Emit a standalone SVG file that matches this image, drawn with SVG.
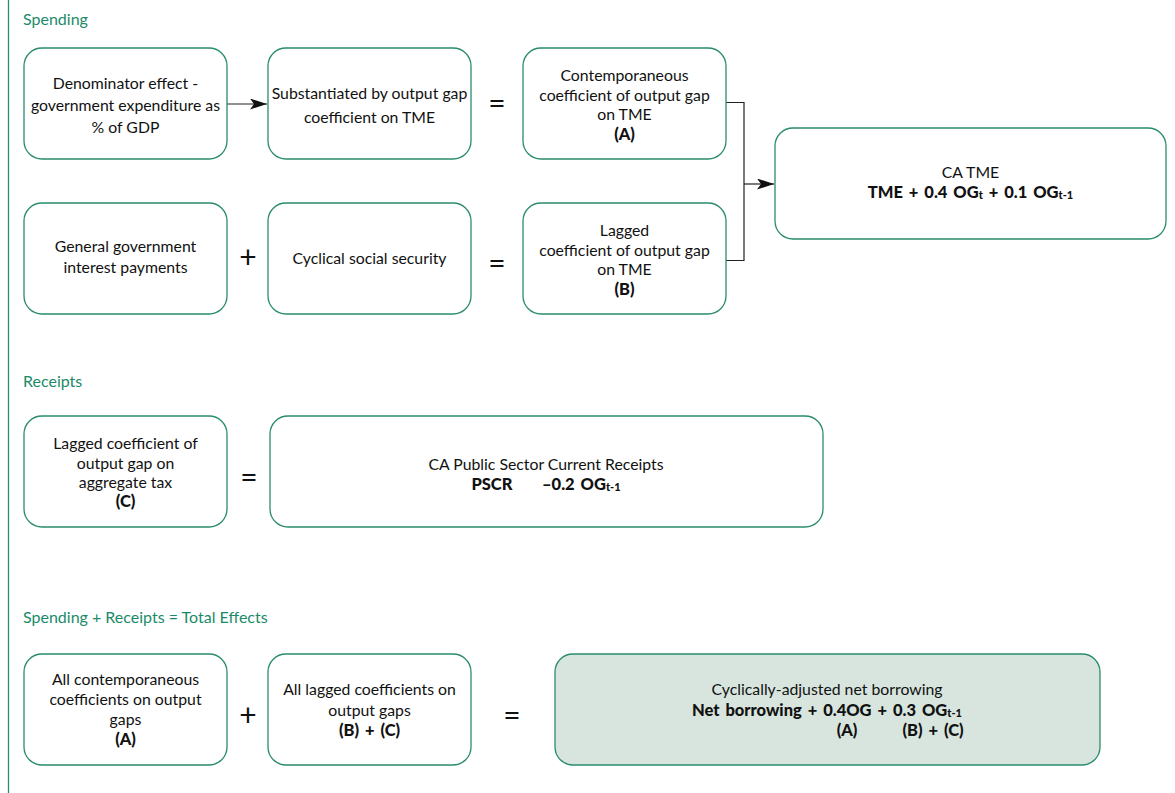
<svg xmlns="http://www.w3.org/2000/svg" width="1175" height="793" viewBox="0 0 1175 793">
<defs>
<style>
.box{fill:#fff;stroke:#2a8c6e;stroke-width:1.3}
.shade{fill:#d7e5de}
text{font-family:Lato,"Liberation Sans",sans-serif;font-size:15.8px;fill:#111;text-anchor:middle}
.b{font-weight:900;font-size:16.5px;word-spacing:2px}
.h{fill:#1b8a68;text-anchor:start;font-size:16px}
.op{font-size:30px}
.sub{font-size:11px}
.conn{fill:none;stroke:#222;stroke-width:1.2}
</style>
<marker id="arr" viewBox="0 0 17 11" refX="17" refY="5.5" markerWidth="17" markerHeight="11" markerUnits="userSpaceOnUse" orient="auto"><path d="M0,0 L17,5.5 L0,11 L4,5.5 z" fill="#111"/></marker>
</defs>
<rect width="1175" height="793" fill="#fff"/>
<line x1="8.5" y1="0" x2="8.5" y2="793" stroke="#2a8c6e" stroke-width="1.3"/>
<text class="h" x="23" y="25">Spending</text>
<text class="h" x="23" y="387">Receipts</text>
<text class="h" x="23" y="623">Spending + Receipts = Total Effects</text>

<g id="connectors">
<line class="conn" x1="227" y1="104" x2="267" y2="104" marker-end="url(#arr)"/>
<polyline class="conn" points="726,102.5 744,102.5 744,260.5 726,260.5"/>
<line class="conn" x1="744" y1="184" x2="774" y2="184" marker-end="url(#arr)"/>
</g>

<g id="ops">
<text class="op" x="497" y="114">=</text>
<text class="op" x="248" y="268">+</text>
<text class="op" x="497" y="274">=</text>
<text class="op" x="249" y="488">=</text>
<text class="op" x="248" y="726">+</text>
<text class="op" x="512" y="726">=</text>
</g>

<g id="n1"><rect class="box" x="24" y="48" width="203" height="111" rx="18"/>
<text x="125.5" y="89">Denominator effect -</text><text x="125.5" y="111">government expenditure as</text><text x="125.5" y="133">% of GDP</text></g>
<g id="n2"><rect class="box" x="268" y="48" width="203" height="111" rx="18"/>
<text x="369.5" y="99">Substantiated by output gap</text><text x="369.5" y="123">coefficient on TME</text></g>
<g id="n3"><rect class="box" x="523" y="48" width="203" height="111" rx="18"/>
<text x="624.5" y="81">Contemporaneous</text><text x="624.5" y="101">coefficient of output gap</text><text x="624.5" y="120">on TME</text><text class="b" x="624.5" y="140">(A)</text></g>
<g id="n4"><rect class="box" x="775" y="128" width="391" height="111" rx="18"/>
<text x="970.5" y="178">CA TME</text>
<text class="b" x="970.5" y="198">TME + 0.4 OG<tspan class="sub" dy="1">t</tspan><tspan dy="-1"> + 0.1 OG</tspan><tspan class="sub" dy="1">t-1</tspan></text></g>
<g id="n5"><rect class="box" x="24" y="203" width="203" height="111" rx="18"/>
<text x="125.5" y="252">General government</text><text x="125.5" y="273">interest payments</text></g>
<g id="n6"><rect class="box" x="268" y="203" width="203" height="111" rx="18"/>
<text x="369.5" y="264">Cyclical social security</text></g>
<g id="n7"><rect class="box" x="523" y="203" width="203" height="111" rx="18"/>
<text x="624.5" y="236">Lagged</text><text x="624.5" y="256">coefficient of output gap</text><text x="624.5" y="275">on TME</text><text class="b" x="624.5" y="295">(B)</text></g>
<g id="n8"><rect class="box" x="24" y="416" width="203" height="111" rx="18"/>
<text x="125.5" y="449">Lagged coefficient of</text><text x="125.5" y="469">output gap on</text><text x="125.5" y="488">aggregate tax</text><text class="b" x="125.5" y="507">(C)</text></g>
<g id="n9"><rect class="box" x="270" y="416" width="553" height="111" rx="18"/>
<text x="546" y="470">CA Public Sector Current Receipts</text>
<text class="b" x="546" y="490" xml:space="preserve">PSCR     –0.2 OG<tspan class="sub" dy="1">t-1</tspan></text></g>
<g id="n10"><rect class="box" x="24" y="654" width="203" height="111" rx="18"/>
<text x="125.5" y="685">All contemporaneous</text><text x="125.5" y="705">coefficients on output</text><text x="125.5" y="725">gaps</text><text class="b" x="125.5" y="745">(A)</text></g>
<g id="n11"><rect class="box" x="268" y="654" width="203" height="111" rx="18"/>
<text x="369.5" y="695">All lagged coefficients on</text><text x="369.5" y="716">output gaps</text><text class="b" x="369.5" y="736">(B) + (C)</text></g>
<g id="n12"><rect class="box shade" x="555" y="654" width="545" height="111" rx="18"/>
<text x="827" y="695">Cyclically-adjusted net borrowing</text>
<text class="b" x="827" y="716">Net borrowing + 0.4OG + 0.3 OG<tspan class="sub" dy="1">t-1</tspan></text>
<text class="b" x="847" y="736">(A)</text><text class="b" x="933" y="736">(B) + (C)</text></g>
</svg>
